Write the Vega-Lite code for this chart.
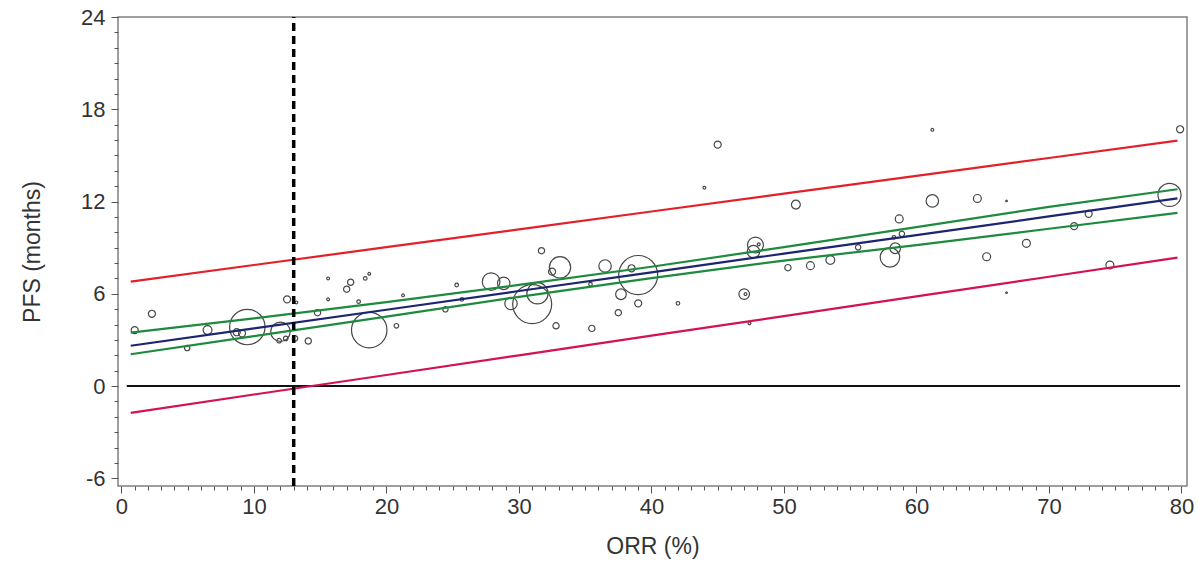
{
  "$schema": "https://vega.github.io/schema/vega-lite/v6.json",
  "width": 1069,
  "height": 469,
  "autosize": "none",
  "padding": {"left": 118, "top": 17, "right": 11, "bottom": 81},
  "background": "white",
  "config": {
    "view": {"stroke": "#808080", "strokeWidth": 1.5},
    "font": "Liberation Sans"
  },
  "datasets": {
    "trials": [
      {"x": 1.0, "y": 3.64, "n": 19},
      {"x": 2.3, "y": 4.7, "n": 19},
      {"x": 4.96, "y": 2.47, "n": 11},
      {"x": 6.5, "y": 3.64, "n": 30},
      {"x": 9.5, "y": 3.84, "n": 480},
      {"x": 8.7, "y": 3.5, "n": 19},
      {"x": 9.1, "y": 3.43, "n": 19},
      {"x": 12.0, "y": 3.53, "n": 145},
      {"x": 11.9, "y": 2.95, "n": 8},
      {"x": 12.4, "y": 3.1, "n": 8},
      {"x": 13.1, "y": 3.1, "n": 11},
      {"x": 14.1, "y": 2.93, "n": 15},
      {"x": 12.5, "y": 5.64, "n": 19},
      {"x": 13.2, "y": 5.44, "n": 3},
      {"x": 14.8, "y": 4.77, "n": 15},
      {"x": 15.6, "y": 7.0, "n": 3},
      {"x": 15.6, "y": 5.64, "n": 3},
      {"x": 17.3, "y": 6.75, "n": 15},
      {"x": 17.0, "y": 6.3, "n": 15},
      {"x": 18.4, "y": 7.0, "n": 5},
      {"x": 18.7, "y": 7.3, "n": 3},
      {"x": 17.9, "y": 5.49, "n": 5},
      {"x": 18.7, "y": 3.64, "n": 480},
      {"x": 21.25, "y": 5.9, "n": 3},
      {"x": 20.75, "y": 3.92, "n": 8},
      {"x": 24.45, "y": 4.99, "n": 11},
      {"x": 25.3, "y": 6.57, "n": 5},
      {"x": 25.7, "y": 5.64, "n": 5},
      {"x": 27.9, "y": 6.79, "n": 120},
      {"x": 28.85, "y": 6.68, "n": 59},
      {"x": 29.4, "y": 5.37, "n": 59},
      {"x": 31.0, "y": 5.33, "n": 581},
      {"x": 31.4, "y": 6.03, "n": 173},
      {"x": 31.7, "y": 8.8, "n": 15},
      {"x": 33.1, "y": 7.72, "n": 173},
      {"x": 32.5, "y": 7.44, "n": 19},
      {"x": 32.8, "y": 3.92, "n": 15},
      {"x": 35.4, "y": 6.62, "n": 5},
      {"x": 35.5, "y": 3.75, "n": 15},
      {"x": 36.5, "y": 7.81, "n": 59},
      {"x": 39.0, "y": 7.22, "n": 581},
      {"x": 38.5, "y": 7.66, "n": 19},
      {"x": 37.7, "y": 5.97, "n": 43},
      {"x": 39.0, "y": 5.38, "n": 19},
      {"x": 37.5, "y": 4.77, "n": 15},
      {"x": 45.0, "y": 15.7, "n": 19},
      {"x": 44.0, "y": 12.9, "n": 3},
      {"x": 42.0, "y": 5.38, "n": 5},
      {"x": 50.9, "y": 11.8, "n": 30},
      {"x": 47.85, "y": 9.17, "n": 97},
      {"x": 47.7, "y": 8.74, "n": 59},
      {"x": 48.1, "y": 9.22, "n": 3},
      {"x": 47.0, "y": 5.98, "n": 43},
      {"x": 47.1, "y": 5.98, "n": 3},
      {"x": 47.4, "y": 4.08, "n": 3},
      {"x": 50.3, "y": 7.7, "n": 15},
      {"x": 52.0, "y": 7.83, "n": 24},
      {"x": 53.5, "y": 8.2, "n": 30},
      {"x": 55.6, "y": 9.02, "n": 11},
      {"x": 58.7, "y": 10.87, "n": 24},
      {"x": 58.0, "y": 8.37, "n": 145},
      {"x": 58.4, "y": 8.96, "n": 43},
      {"x": 58.9, "y": 9.9, "n": 11},
      {"x": 58.3, "y": 9.67, "n": 5},
      {"x": 61.2, "y": 16.66, "n": 3},
      {"x": 79.9, "y": 16.7, "n": 19},
      {"x": 61.2, "y": 12.04, "n": 59},
      {"x": 64.6, "y": 12.2, "n": 24},
      {"x": 66.8, "y": 12.04, "n": 1},
      {"x": 79.1, "y": 12.43, "n": 203},
      {"x": 73.0, "y": 11.2, "n": 19},
      {"x": 71.9, "y": 10.4, "n": 19},
      {"x": 68.3, "y": 9.28, "n": 24},
      {"x": 65.3, "y": 8.41, "n": 24},
      {"x": 74.6, "y": 7.87, "n": 24},
      {"x": 66.8, "y": 6.07, "n": 1}
    ],
    "fit": [
      {"band": "Upper PI", "x": 0.7, "y": 6.79},
      {"band": "Upper PI", "x": 10, "y": 7.87},
      {"band": "Upper PI", "x": 20, "y": 9.03},
      {"band": "Upper PI", "x": 30, "y": 10.19},
      {"band": "Upper PI", "x": 40, "y": 11.35},
      {"band": "Upper PI", "x": 50, "y": 12.51},
      {"band": "Upper PI", "x": 60, "y": 13.67},
      {"band": "Upper PI", "x": 70, "y": 14.83},
      {"band": "Upper PI", "x": 79.7, "y": 15.96},
      {"band": "Upper CI", "x": 0.7, "y": 3.47},
      {"band": "Upper CI", "x": 10, "y": 4.4},
      {"band": "Upper CI", "x": 20, "y": 5.46},
      {"band": "Upper CI", "x": 30, "y": 6.58},
      {"band": "Upper CI", "x": 40, "y": 7.76},
      {"band": "Upper CI", "x": 50, "y": 9.03},
      {"band": "Upper CI", "x": 60, "y": 10.34},
      {"band": "Upper CI", "x": 70, "y": 11.65},
      {"band": "Upper CI", "x": 79.7, "y": 12.8},
      {"band": "Fit", "x": 0.7, "y": 2.62},
      {"band": "Fit", "x": 10, "y": 3.75},
      {"band": "Fit", "x": 20, "y": 4.96},
      {"band": "Fit", "x": 30, "y": 6.18},
      {"band": "Fit", "x": 40, "y": 7.39},
      {"band": "Fit", "x": 50, "y": 8.61},
      {"band": "Fit", "x": 60, "y": 9.82},
      {"band": "Fit", "x": 70, "y": 11.03},
      {"band": "Fit", "x": 79.7, "y": 12.21},
      {"band": "Lower CI", "x": 0.7, "y": 2.07},
      {"band": "Lower CI", "x": 10, "y": 3.25},
      {"band": "Lower CI", "x": 20, "y": 4.51},
      {"band": "Lower CI", "x": 30, "y": 5.8},
      {"band": "Lower CI", "x": 40, "y": 7.02},
      {"band": "Lower CI", "x": 50, "y": 8.16},
      {"band": "Lower CI", "x": 60, "y": 9.17},
      {"band": "Lower CI", "x": 70, "y": 10.23},
      {"band": "Lower CI", "x": 79.7, "y": 11.26},
      {"band": "Lower PI", "x": 0.7, "y": -1.74},
      {"band": "Lower PI", "x": 10, "y": -0.55},
      {"band": "Lower PI", "x": 20, "y": 0.72},
      {"band": "Lower PI", "x": 30, "y": 2.0},
      {"band": "Lower PI", "x": 40, "y": 3.28},
      {"band": "Lower PI", "x": 50, "y": 4.55},
      {"band": "Lower PI", "x": 60, "y": 5.83},
      {"band": "Lower PI", "x": 70, "y": 7.11},
      {"band": "Lower PI", "x": 79.7, "y": 8.35}
    ],
    "zero": [{"x": 0.4, "x2": 79.9, "y": 0}],
    "cutoff": [{"x": 13, "y": -6.5, "y2": 24}]
  },
  "encoding": {
    "x": {
      "field": "x", "type": "quantitative", "title": "ORR (%)",
      "scale": {"domain": [-0.26, 80.42], "nice": false, "zero": false},
      "axis": {
        "values": [0,1,2,3,4,5,6,7,8,9,10,11,12,13,14,15,16,17,18,19,20,21,22,23,24,25,26,27,28,29,30,31,32,33,34,35,36,37,38,39,40,41,42,43,44,45,46,47,48,49,50,51,52,53,54,55,56,57,58,59,60,61,62,63,64,65,66,67,68,69,70,71,72,73,74,75,76,77,78,79,80],
        "labelExpr": "datum.value % 10 === 0 ? '' + datum.value : ''",
        "tickSize": {"condition": {"test": "datum.value % 10 === 0", "value": 7}, "value": 4},
        "tickColor": "#555555",
        "domain": false,
        "grid": false,
        "labelOverlap": false,
        "labelFlush": false,
        "labelBound": false,
        "labelFontSize": 22,
        "labelColor": "#333333",
        "labelPadding": 3,
        "titleFontSize": 23,
        "titleFontWeight": "normal",
        "titleColor": "#333333",
        "titlePadding": 18
      }
    },
    "y": {
      "field": "y", "type": "quantitative", "title": "PFS (months)",
      "scale": {"domain": [-6.5, 24], "nice": false, "zero": false},
      "axis": {
        "values": [-6,-5,-4,-3,-2,-1,0,1,2,3,4,5,6,7,8,9,10,11,12,13,14,15,16,17,18,19,20,21,22,23,24],
        "labelExpr": "datum.value % 6 === 0 ? '' + datum.value : ''",
        "tickSize": {"condition": {"test": "datum.value % 6 === 0", "value": 7}, "value": 4},
        "tickColor": "#555555",
        "domain": false,
        "grid": false,
        "labelOverlap": false,
        "labelFlush": false,
        "labelBound": false,
        "labelFontSize": 22,
        "labelColor": "#333333",
        "labelPadding": 6,
        "titleFontSize": 23,
        "titleFontWeight": "normal",
        "titleColor": "#333333",
        "titlePadding": 36
      }
    }
  },
  "layer": [
    {
      "data": {"name": "trials"},
      "mark": {"type": "point", "shape": "circle", "filled": false, "stroke": "#474747", "strokeWidth": 1.2, "opacity": 1},
      "encoding": {
        "size": {
          "field": "n", "type": "quantitative",
          "scale": {"domain": [0, 600], "range": [0, 1571], "zero": true},
          "legend": null
        }
      }
    },
    {
      "data": {"name": "zero"},
      "mark": {"type": "rule", "color": "#111111", "strokeWidth": 2},
      "encoding": {
        "x2": {"field": "x2"}
      }
    },
    {
      "data": {"name": "fit"},
      "mark": {"type": "line", "strokeWidth": 2.2, "interpolate": "linear"},
      "encoding": {
        "color": {
          "field": "band", "type": "nominal",
          "scale": {"domain": ["Upper PI", "Upper CI", "Fit", "Lower CI", "Lower PI"], "range": ["#e3202a", "#1e8a3e", "#1c2570", "#1e8a3e", "#d3124f"]},
          "legend": null
        }
      }
    },
    {
      "data": {"name": "cutoff"},
      "mark": {"type": "rule", "color": "#000000", "strokeWidth": 3.5, "strokeDash": [8, 5]},
      "encoding": {
        "y2": {"field": "y2"}
      }
    }
  ]
}
